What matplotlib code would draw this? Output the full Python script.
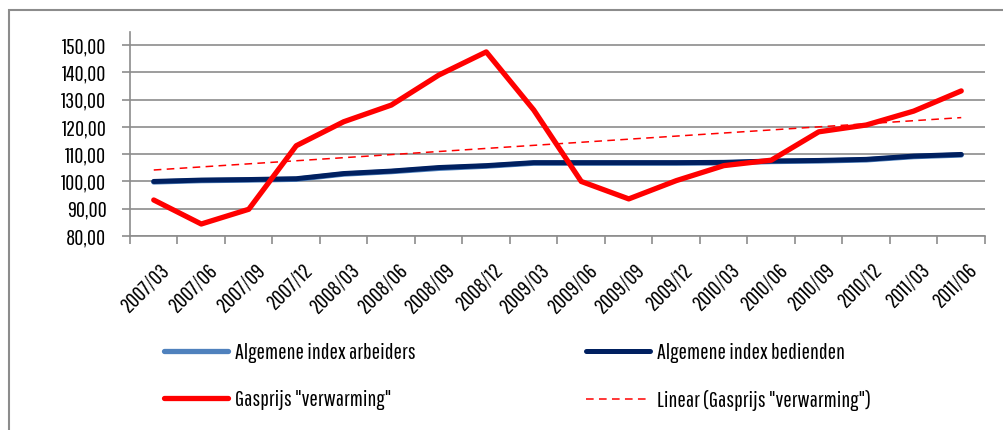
import matplotlib
matplotlib.use("Agg")
import matplotlib.pyplot as plt
import matplotlib.transforms as mtransforms
from matplotlib.patches import Rectangle
import numpy as np

plt.rcParams['font.family'] = ['Pathway Gothic One', 'Roboto Condensed', 'DejaVu Sans']

quarters = ['2007/03', '2007/06', '2007/09', '2007/12',
            '2008/03', '2008/06', '2008/09', '2008/12',
            '2009/03', '2009/06', '2009/09', '2009/12',
            '2010/03', '2010/06', '2010/09', '2010/12',
            '2011/03', '2011/06']

index_arbeiders = [99.8, 100.3, 100.5, 100.8, 102.7, 103.6, 104.8, 105.6,
                   106.7, 106.7, 106.7, 106.7, 106.8, 107.3, 107.5, 107.9,
                   109.1, 109.7]
index_bedienden = [100.0, 100.5, 100.7, 101.0, 102.9, 103.8, 105.1, 105.8,
                   106.9, 106.9, 106.9, 106.9, 107.0, 107.5, 107.7, 108.1,
                   109.3, 109.9]
gasprijs = [93.2, 84.4, 89.8, 113.1, 121.9, 128.0, 139.0, 147.5,
            126.2, 100.0, 93.6, 100.3, 105.8, 107.8, 118.2, 120.7,
            125.8, 133.2]

y_ticks = [80, 90, 100, 110, 120, 130, 140, 150]
y_labels = ['80,00', '90,00', '100,00', '110,00', '120,00', '130,00', '140,00', '150,00']

grey = '#8c8c8c'
navy = '#002060'
lightblue = '#4f81bd'
red = '#ff0000'

fig = plt.figure(figsize=(10.04, 4.30), dpi=100)
ax = fig.add_axes([130 / 1004, 1 - 236 / 430, (985 - 130) / 1004, (236 - 32) / 430])

x = np.arange(len(quarters))
# linear trendline of the gas price, like Excel's "Linear" trendline
slope, intercept = np.polyfit(x, gasprijs, 1)
trend = slope * x + intercept

l_arb, = ax.plot(x, index_arbeiders, color=lightblue, lw=3.8, solid_capstyle='round', zorder=3)
l_bed, = ax.plot(x, index_bedienden, color=navy, lw=3.6, solid_capstyle='round', zorder=4)
l_gas, = ax.plot(x, gasprijs, color=red, lw=3.8, solid_capstyle='round', zorder=5)
l_lin, = ax.plot(x, trend, color=red, lw=1.1, dashes=(5, 3.5), zorder=4)

ax.set_xlim(-0.5, len(quarters) - 0.5)
ax.set_ylim(80, 154.8)
ax.set_yticks(y_ticks)
ax.set_yticklabels(y_labels)
ax.yaxis.grid(True, color=grey, lw=1.2)
ax.set_axisbelow(True)

ax.set_xticks(np.arange(len(quarters) + 1) - 0.5, minor=False)
ax.set_xticklabels([])
ax.set_xticks(x, minor=True)
ax.set_xticklabels(quarters, minor=True, rotation=45, ha='right', rotation_mode='anchor')
ax.tick_params(axis='x', which='major', length=6, width=1.2, color=grey, direction='out')
ax.tick_params(axis='x', which='minor', length=0, pad=17, labelsize=16)
ax.tick_params(axis='y', length=6, width=1.2, color=grey, pad=11, labelsize=16)

# nudge the rotated labels a little to the right
shift = mtransforms.ScaledTranslation(6 / 100, 0, fig.dpi_scale_trans)
for lbl in ax.get_xticklabels(minor=True):
    lbl.set_transform(lbl.get_transform() + shift)

for side in ['top', 'right']:
    ax.spines[side].set_visible(False)
for side in ['left', 'bottom']:
    ax.spines[side].set_color(grey)
    ax.spines[side].set_linewidth(1.2)

leg_kw = dict(frameon=False, fontsize=16, handlelength=2.9, handletextpad=0.3,
              labelspacing=1.2, borderaxespad=0, borderpad=0)
leg1 = fig.legend([l_arb, l_gas], ['Algemene index arbeiders', 'Gasprijs "verwarming"'],
                  loc='upper left', bbox_to_anchor=(164 / 1004, 1 - 343 / 430), **leg_kw)
leg2 = fig.legend([l_bed, l_lin], ['Algemene index bedienden', 'Linear (Gasprijs "verwarming")'],
                  loc='upper left', bbox_to_anchor=(586 / 1004, 1 - 343 / 430), **leg_kw)

# outer chart border
fig.patches.append(Rectangle((9 / 1004, -0.1), 1.2, 1 - 10.5 / 430 + 0.1,
                             transform=fig.transFigure, fill=False,
                             edgecolor=grey, lw=1.5))

fig.savefig('out.png', dpi=100)
